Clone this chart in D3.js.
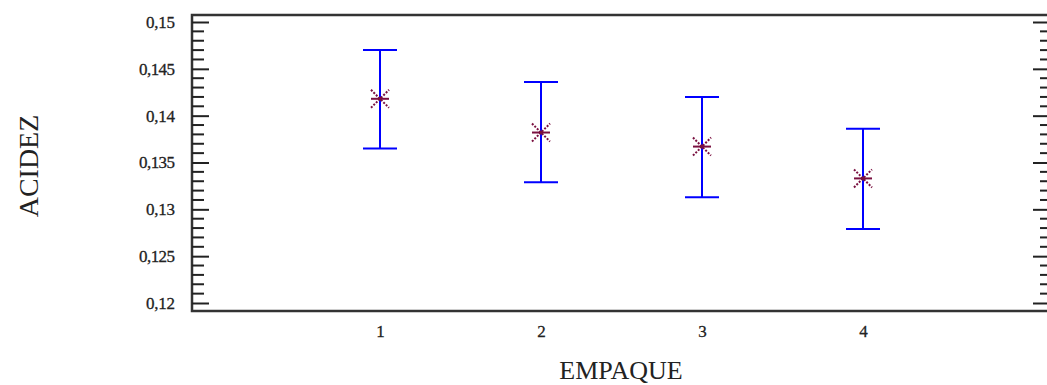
<!doctype html>
<html>
  <head>
    <script src="https://cdnjs.cloudflare.com/ajax/libs/d3/7.8.5/d3.min.js"></script>
    <style>
      body { margin: 0; background: #fff; }
      text { font-family: "Liberation Serif", "DejaVu Serif", serif; fill: #222; }
    </style>
  </head>
  <body>
    <svg width="1047" height="385"></svg>
    <script>
      // EMPAQUE groups, mean ACIDEZ and interval limits
      var empaque = [1, 2, 3, 4];
      var media = [0.1418, 0.1382, 0.1367, 0.1333];
      var inferior = [0.1365, 0.1329, 0.1313, 0.1279];
      var superior = [0.1470, 0.1436, 0.1420, 0.1386];
      var yTicks = [0.12, 0.125, 0.13, 0.135, 0.14, 0.145, 0.15];
      var yLabels = ["0,12", "0,125", "0,13", "0,135", "0,14", "0,145", "0,15"];

      var svg = d3.select("svg");
      var fLeft = 192, fRight = 1050, fTop = 15, fBottom = 311;
      var serif = "'Liberation Serif', 'DejaVu Serif', serif";

      var x = d3.scaleLinear().domain([1, 4]).range([380, 863]);
      var y = d3.scaleLinear().domain([0.12, 0.15]).range([303, 22]);

      var minor = d3.range(120, 151).map(d => d / 1000)
        .filter(d => Math.round(d * 1000) % 5 != 0);

      // frame
      svg.append("rect")
        .attr("x", fLeft).attr("y", fTop)
        .attr("width", fRight - fLeft).attr("height", fBottom - fTop)
        .style("fill", "none").style("stroke", "#333").style("stroke-width", 2.5);

      // left axis, ticks pointing in
      var yAxis = d3.axisLeft(y)
        .tickValues(yTicks)
        .tickFormat((d, i) => yLabels[i])
        .tickSizeInner(-17).tickSizeOuter(0).tickPadding(17);
      var gl = svg.append("g").attr("transform", "translate(" + fLeft + ",0)").call(yAxis)
        .attr("font-family", serif);
      gl.select(".domain").remove();
      gl.selectAll("line").style("stroke", "#222").style("stroke-width", 2);
      gl.selectAll("text").style("font-size", "17px").style("font-family", serif)
        .style("fill", "#222").style("stroke", "#222").style("stroke-width", 0.3)
        .attr("textLength", (d, i) => yLabels[i].length > 4 ? 36 : 29);

      gl.selectAll(".minor").data(minor).enter().append("line")
        .attr("x1", 0).attr("x2", 12)
        .attr("y1", d => y(d)).attr("y2", d => y(d))
        .style("stroke", "#222").style("stroke-width", 2);

      // right side mirrored ticks
      var yAxisR = d3.axisRight(y).tickValues(yTicks).tickFormat("")
        .tickSizeInner(-17).tickSizeOuter(0);
      var gr = svg.append("g").attr("transform", "translate(" + fRight + ",0)").call(yAxisR);
      gr.select(".domain").remove();
      gr.selectAll("line").style("stroke", "#222").style("stroke-width", 2);
      gr.selectAll(".minor").data(minor).enter().append("line")
        .attr("x1", 0).attr("x2", -10)
        .attr("y1", d => y(d)).attr("y2", d => y(d))
        .style("stroke", "#222").style("stroke-width", 2);

      // x tick labels
      var xAxis = d3.axisBottom(x).tickValues(empaque).tickFormat(d3.format("d"))
        .tickSize(0).tickPadding(14);
      var gx = svg.append("g").attr("transform", "translate(0," + fBottom + ")").call(xAxis)
        .attr("font-family", serif);
      gx.select(".domain").remove();
      gx.selectAll("text").style("font-size", "17px").style("font-family", serif)
        .style("fill", "#222").style("stroke", "#222").style("stroke-width", 0.3);

      // axis titles
      svg.append("text")
        .attr("x", 621).attr("y", 379)
        .attr("text-anchor", "middle")
        .style("font-size", "26px")
        .text("EMPAQUE");
      svg.append("text")
        .attr("transform", "translate(38,166) rotate(-90)")
        .attr("text-anchor", "middle")
        .style("font-size", "28px")
        .text("ACIDEZ");

      // error bars
      var bars = svg.append("g").selectAll("g").data(empaque).enter().append("g");
      bars.append("line")
        .attr("x1", d => x(d)).attr("x2", d => x(d))
        .attr("y1", (d, i) => y(superior[i])).attr("y2", (d, i) => y(inferior[i]))
        .style("stroke", "#0000ff").style("stroke-width", 2);
      bars.append("line")
        .attr("x1", d => x(d) - 17).attr("x2", d => x(d) + 17)
        .attr("y1", (d, i) => y(superior[i])).attr("y2", (d, i) => y(superior[i]))
        .style("stroke", "#0000ff").style("stroke-width", 2);
      bars.append("line")
        .attr("x1", d => x(d) - 17).attr("x2", d => x(d) + 17)
        .attr("y1", (d, i) => y(inferior[i])).attr("y2", (d, i) => y(inferior[i]))
        .style("stroke", "#0000ff").style("stroke-width", 2);

      // asterisk markers at the means
      var star = bars.append("g")
        .attr("transform", (d, i) => "translate(" + x(d) + "," + y(media[i]) + ")")
        .style("stroke", "#7a1040").style("stroke-width", 2);
      star.append("line").attr("x1", -9).attr("x2", 9).attr("y1", 0).attr("y2", 0);
      star.append("line").attr("x1", -9).attr("x2", 9).attr("y1", -9).attr("y2", 9)
        .style("stroke-dasharray", "2,1.5");
      star.append("line").attr("x1", -9).attr("x2", 9).attr("y1", 9).attr("y2", -9)
        .style("stroke-dasharray", "2,1.5");
      star.append("circle").attr("r", 2).style("fill", "#7a1040").style("stroke", "none");
    </script>
  </body>
</html>
